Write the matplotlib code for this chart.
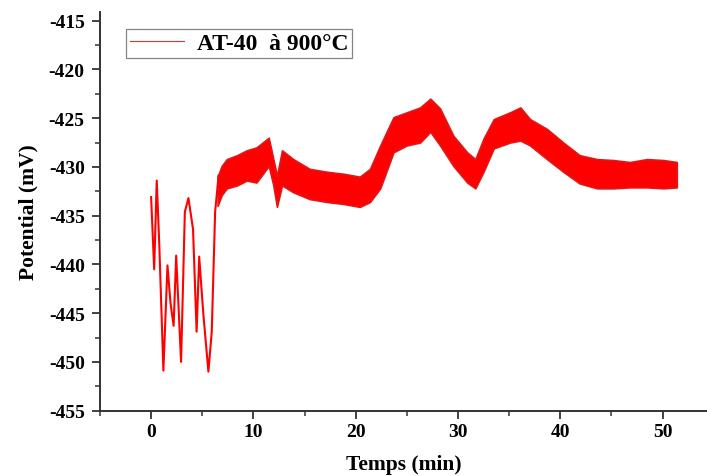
import matplotlib
matplotlib.use("Agg")
import matplotlib.pyplot as plt

plt.rcParams["font.family"] = ["Liberation Serif", "DejaVu Serif"]
plt.rcParams["font.weight"] = "bold"
plt.rcParams["axes.unicode_minus"] = False

# early, strongly fluctuating part of the record (single trace)
early_time = [0.0, 0.3, 0.55, 0.8, 1.2, 1.6, 1.9, 2.2, 2.45, 2.93, 3.3, 3.65,
              4.1, 4.45, 4.7, 5.1, 5.6, 5.93, 6.26, 6.6]
early_potential = [-433.1, -440.5, -431.4, -438.0, -450.9, -440.1, -444.0, -446.3,
                   -439.1, -450.0, -434.6, -433.2, -436.4, -446.9, -439.2, -445.0,
                   -451.0, -446.9, -434.6, -430.9]

# later part: noisy band, upper / lower envelope
band_time = [6.5, 6.9, 7.4, 8.4, 9.35, 10.3, 11.5, 11.95, 12.3, 12.8, 13.9,
             15.5, 17.2, 18.8, 20.4, 21.4, 22.4, 23.7, 25.0, 26.3, 27.3,
             28.25, 29.55, 30.9, 31.7, 32.5, 33.5, 35.1, 36.1, 37.05, 38.7,
             40.3, 41.9, 43.6, 45.2, 46.8, 48.5, 50.1, 51.4]
band_upper = [-431.0, -429.9, -429.2, -428.8, -428.3, -428.0, -427.0, -429.2,
              -430.9, -428.3, -429.2, -430.2, -430.5, -430.7, -431.0, -430.2,
              -427.8, -424.9, -424.4, -423.9, -423.0, -424.0, -426.8, -428.5,
              -429.2, -427.1, -425.1, -424.4, -423.9, -425.1, -426.1, -427.5,
              -428.8, -429.2, -429.3, -429.5, -429.2, -429.3, -429.5]
band_lower = [-434.0, -432.9, -432.2, -431.9, -431.4, -431.6, -429.9, -431.9,
              -434.1, -431.9, -432.6, -433.3, -433.6, -433.8, -434.1, -433.6,
              -432.2, -428.5, -427.8, -427.5, -426.4, -427.8, -429.9, -431.6,
              -432.2, -430.5, -428.1, -427.5, -427.3, -427.8, -429.2, -430.5,
              -431.7, -432.2, -432.2, -432.1, -432.1, -432.2, -432.1]

x_ticks = [0, 10, 20, 30, 40, 50]
x_minor = [-5, 5, 15, 25, 35, 45]
y_ticks = [-455, -450, -445, -440, -435, -430, -425, -420, -415]
y_minor = [-452.5, -447.5, -442.5, -437.5, -432.5, -427.5, -422.5, -417.5]

series_label = "AT-40  à 900°C"
line_color = "#ff0000"
edge_color = "#e01818"

fig = plt.figure(figsize=(7.07, 4.77), dpi=100)
ax = fig.add_axes([0.1414, 0.137, 0.8586, 0.836])

ax.plot(early_time, early_potential, color=line_color, linewidth=1.5,
        label=series_label)
ax.fill_between(band_time, band_lower, band_upper, facecolor=line_color,
                edgecolor=edge_color, linewidth=1.2)

ax.set_xlim(-5, 54.35)
ax.set_ylim(-455, -414.1)
ax.set_xticks(x_ticks, labels=[str(v) for v in x_ticks],
              fontsize=14, fontweight="bold")
ax.set_yticks(y_ticks, labels=[str(v) for v in y_ticks],
              fontsize=14, fontweight="bold")
ax.set_xticks(x_minor, minor=True)
ax.set_yticks(y_minor, minor=True)

for side in ("top", "right"):
    ax.spines[side].set_visible(False)
for side in ("left", "bottom"):
    ax.spines[side].set_linewidth(1.4)
    ax.spines[side].set_color("#333333")

ax.tick_params(which="major", direction="out", length=6, width=1.3,
               color="#333333")
ax.tick_params(axis="y", which="major", pad=5)
ax.tick_params(axis="x", which="major", pad=3)
ax.tick_params(which="minor", direction="out", length=3.5, width=1.1,
               color="#333333")

ax.set_xlabel("Temps (min)", fontsize=15.5, fontweight="bold", labelpad=10)
ax.set_ylabel("Potential (mV)", fontsize=15.5, fontweight="bold", labelpad=7)

leg = ax.legend(loc="upper left", bbox_to_anchor=(0.043, 0.957),
                borderaxespad=0, fancybox=False, handlelength=2.3,
                handletextpad=0.55, borderpad=0.15,
                prop={"size": 17, "weight": "bold"})
leg.get_frame().set_edgecolor("#666666")
leg.get_frame().set_linewidth(0.9)
handle = leg.get_lines()[0]
handle.set_color("#e83030")
handle.set_linewidth(0.8)

fig.savefig("out.png", dpi=100)
